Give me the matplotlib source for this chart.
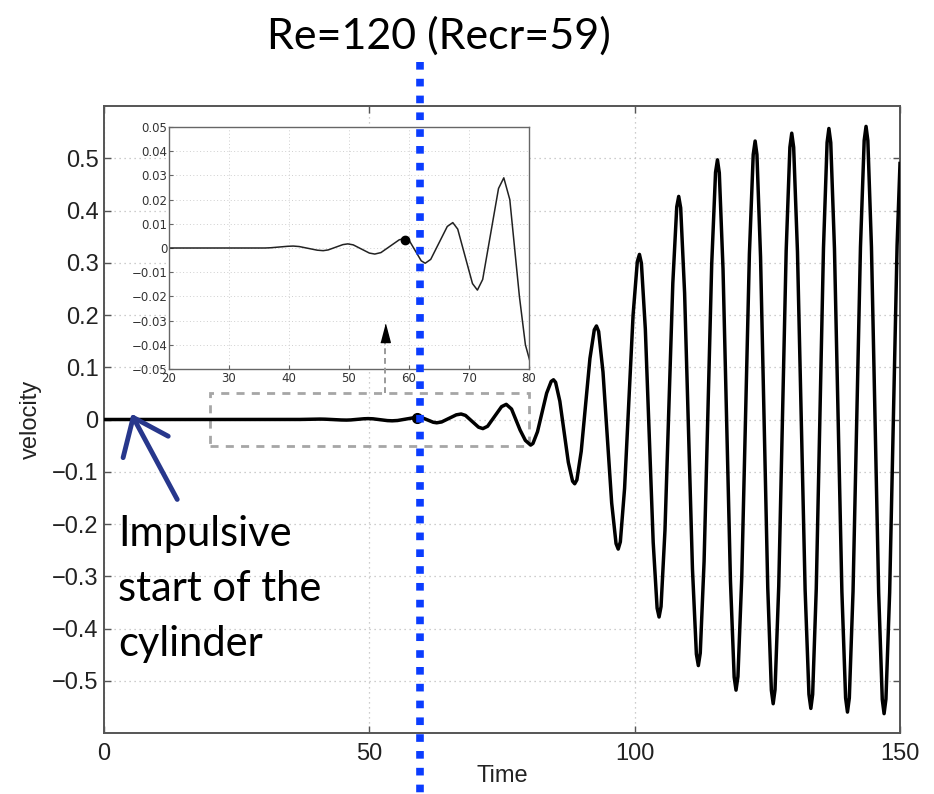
import matplotlib.pyplot as plt
from matplotlib.lines import Line2D
from matplotlib.patches import Rectangle
from matplotlib.transforms import blended_transform_factory

# velocity signal (time, velocity)
time = [0, 36.0, 36.94, 38.35, 39.76,
        40.7, 41.7, 43.2, 44.7, 45.7, 46.52, 47.75, 48.98, 49.8, 50.7, 52.05, 53.4,
        54.3, 55.32, 56.85, 58.38, 59.4, 60.06, 61.05, 62.04, 62.7, 63.62, 65.0, 66.38,
        67.3, 68.12, 69.35, 70.58, 71.4, 72.28, 73.6, 74.92, 75.8, 76.8, 77.6, 78.4, 79.4,
        80.4, 80.83, 81.69, 82.55, 83.41, 84.27,
        84.7, 85.1, 85.9, 86.7, 87.5, 88.3,
        88.7, 89.11, 89.93, 90.75, 91.57, 92.39,
        92.8, 93.21, 94.03, 94.85, 95.67, 96.49,
        96.9, 97.3, 98.1, 98.9, 99.7, 100.5,
        100.9, 101.27, 102.01, 102.75, 103.49, 104.23,
        104.6, 104.97, 105.71, 106.45, 107.19, 107.93,
        108.3, 108.67, 109.41, 110.15, 110.89, 111.63,
        112.0, 112.36, 113.08, 113.8, 114.52, 115.24,
        115.6, 115.95, 116.65, 117.35, 118.05, 118.75,
        119.1, 119.46, 120.18, 120.9, 121.62, 122.34,
        122.7, 123.04, 123.72, 124.4, 125.08, 125.76,
        126.1, 126.45, 127.15, 127.85, 128.55, 129.25,
        129.6, 129.96, 130.68, 131.4, 132.12, 132.84,
        133.2, 133.54, 134.22, 134.9, 135.58, 136.26,
        136.6, 136.95, 137.65, 138.35, 139.05, 139.75,
        140.1, 140.45, 141.15, 141.85, 142.55, 143.25,
        143.6, 143.94, 144.62, 145.3, 145.98, 146.66,
        147.0, 147.35, 148.05, 148.75, 149.45, 150.0]
velocity = [0, 0.0, 0.0001, 0.0004, 0.0007,
            0.0008, 0.0006, -0.00015, -0.0009, -0.0011, -0.0008, 0.0003, 0.0014, 0.0017, 0.0013, -0.0004, -0.0021,
            -0.0025, -0.0019, 0.00075, 0.0034, 0.004, 0.003, -0.00115, -0.0053, -0.0063, -0.0047, 0.0021, 0.0089,
            0.0105, 0.0078, -0.0035, -0.0147, -0.0174, -0.0130, 0.0058, 0.0246, 0.029, 0.020, 0.0, -0.020, -0.040,
            -0.049, -0.0459, -0.0233, 0.0135, 0.0503, 0.0729,
            0.076, 0.0711, 0.0350, -0.0235, -0.0820, -0.1181,
            -0.123, -0.1156, -0.0608, 0.028, 0.1168, 0.1716,
            0.179, 0.1685, 0.0910, -0.0345, -0.1600, -0.2375,
            -0.248, -0.2342, -0.1318, 0.034, 0.1998, 0.3022,
            0.316, 0.299, 0.173, -0.031, -0.235, -0.361,
            -0.378, -0.358, -0.212, 0.0245, 0.261, 0.407,
            0.427, 0.405, 0.242, -0.022, -0.286, -0.449,
            -0.471, -0.447, -0.272, 0.013, 0.298, 0.473,
            0.497, 0.472, 0.288, -0.0105, -0.309, -0.493,
            -0.518, -0.492, -0.302, 0.0075, 0.317, 0.507,
            0.533, 0.507, 0.311, -0.0055, -0.322, -0.518,
            -0.544, -0.517, -0.319, 0.002, 0.323, 0.521,
            0.548, 0.521, 0.321, -0.0025, -0.326, -0.526,
            -0.553, -0.526, -0.324, 0.002, 0.328, 0.530,
            0.557, 0.530, 0.327, -0.0015, -0.330, -0.533,
            -0.560, -0.533, -0.329, 0.0005, 0.330, 0.534,
            0.561, 0.534, 0.330, -0.001, -0.332, -0.536,
            -0.563, -0.535, -0.331, 0.001, 0.333, 0.49]

onset_t = 59.4
onset_v = 0.0035
onset_main_t = 58.9
re_crit_t = 59.5

x_ticks = [0, 50, 100, 150]
y_ticks = [-0.5, -0.4, -0.3, -0.2, -0.1, 0, 0.1, 0.2, 0.3, 0.4, 0.5]
y_ticklabels = ['\u22120.5', '\u22120.4', '\u22120.3', '\u22120.2', '\u22120.1', '0',
                '0.1', '0.2', '0.3', '0.4', '0.5']

inset_x_ticks = [20, 30, 40, 50, 60, 70, 80]
inset_y_ticks = [-0.05, -0.04, -0.03, -0.02, -0.01, 0, 0.01, 0.02, 0.03, 0.04, 0.05]
inset_y_ticklabels = ['\u22120.05', '\u22120.04', '\u22120.03', '\u22120.02', '\u22120.01', '0',
                      '0.01', '0.02', '0.03', '0.04', '0.05']

# hand drawn arrow pointing to the start
hand_head_x = [3.6, 5.5, 12.1]
hand_head_y = [-0.073, 0.004, -0.032]
hand_shaft_x = [5.5, 13.8]
hand_shaft_y = [0.004, -0.153]

W, H = 934, 794
fig = plt.figure(figsize=(W / 100, H / 100), dpi=100)

ax = fig.add_axes([104 / W, 1 - 733 / H, 796 / W, 627 / H])
ax.plot(time, velocity, color='black', lw=2.5, zorder=3,
        solid_joinstyle='round')
ax.plot(onset_main_t, onset_v, 'o', color='black', ms=7, zorder=4)
ax.add_patch(Rectangle((20, -0.05), 60, 0.1, fill=False, edgecolor='#a6a6a6',
                       lw=2, linestyle=(0, (2.9, 2.6)), zorder=2))
ax.plot(hand_head_x, hand_head_y, color='#27378c', lw=3.5,
        solid_capstyle='round', solid_joinstyle='round', zorder=5)
ax.plot(hand_shaft_x, hand_shaft_y, color='#27378c', lw=3.5,
        solid_capstyle='round', zorder=5)

ax.set_xlim(0, 150)
ax.set_ylim(-0.6, 0.6)
ax.set_xticks(x_ticks)
ax.set_yticks(y_ticks)
ax.set_yticklabels(y_ticklabels)
ax.grid(True, linestyle=(0, (1, 3)), color='#bdbdbd', lw=0.9)
ax.tick_params(direction='in', top=True, right=True, length=5, width=1,
               color='#555555', labelsize=17, labelcolor='#222222')
ax.tick_params(axis='x', pad=7)
ax.tick_params(axis='y', pad=4)
for lab in ax.get_xticklabels() + ax.get_yticklabels():
    lab.set_family('Liberation Sans')
for sp in ax.spines.values():
    sp.set_color('#555555')
    sp.set_linewidth(1.4)

ax.set_xlabel('Time', fontsize=17, family='Liberation Sans', color='#222222', va='top')
ax.xaxis.set_label_coords(0.5, -0.051)
ax.set_ylabel('velocity', fontsize=17, family='Liberation Sans', color='#222222')
ax.yaxis.set_label_coords(-0.078, 0.5)

# annotation text, last line baseline placed in data units
ax.text(2.6, -0.452, 'Impulsive\nstart of the\ncylinder', fontsize=30,
        family='Lato', va='baseline', ha='left', linespacing=1.55, zorder=6)

# inset with the zoomed window
ins = fig.add_axes([169 / W, 1 - 369 / H, 360 / W, 242 / H])
ins.plot(time, velocity, color='#222222', lw=1.1, solid_joinstyle='round')
ins.plot(onset_t, onset_v, 'o', color='black', ms=6)
ins.set_xlim(20, 80)
ins.set_ylim(-0.05, 0.05)
ins.set_xticks(inset_x_ticks)
ins.set_yticks(inset_y_ticks)
ins.set_yticklabels(inset_y_ticklabels)
ins.grid(True, linestyle=(0, (1, 2.5)), color='#cfcfcf', lw=0.7)
ins.tick_params(direction='in', length=3, color='#666666', labelsize=8.5,
                labelcolor='#333333')
ins.tick_params(axis='x', pad=2)
ins.tick_params(axis='y', pad=1)
for sp in ins.spines.values():
    sp.set_color('#666666')
    sp.set_linewidth(1.0)

# dashed pointer from the box up into the inset
fig.add_artist(Line2D([52.9, 52.9], [0.05, 0.155], transform=ax.transData,
                      color='#9a9a9a', lw=1.4, linestyle=(0, (3, 2)), zorder=9))
fig.add_artist(Line2D([52.9], [0.166], transform=ax.transData, marker=[(-1, -1.9), (1, -1.9), (0, 1.9)],
                      ms=13, color='black', lw=0, zorder=9))

# critical Reynolds line crossing the whole figure
blend = blended_transform_factory(ax.transData, fig.transFigure)
fig.add_artist(Line2D([re_crit_t, re_crit_t], [1 - 62 / H, 0], transform=blend,
                      color='#0a3cff', lw=5.5, linestyle=(0, (1, 1.2)),
                      dash_capstyle='butt', zorder=10))

fig.text(439 / W, 1 - 49 / H, 'Re=120 (Recr=59)', ha='center', va='baseline',
         fontsize=31, family='Lato')

fig.savefig('out.png', dpi=100)
